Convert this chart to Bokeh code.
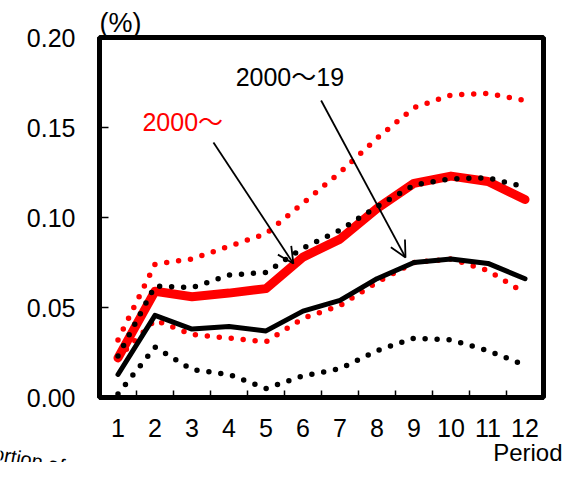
from bokeh.plotting import figure
from bokeh.layouts import column
from bokeh.models import (Range1d, FixedTicker, NumeralTickFormatter, Label, Arrow, OpenHead,
                          ColumnDataSource, Title)
from bokeh.embed import file_html
from bokeh.resources import INLINE

periods = list(range(1, 13))
red_mid = [0.022, 0.059, 0.056, 0.058, 0.0605, 0.078, 0.088, 0.105, 0.119, 0.123, 0.120, 0.110]
red_hi = [0.032, 0.074, 0.077, 0.084, 0.091, 0.108, 0.125, 0.144, 0.161, 0.168, 0.169, 0.165]
red_lo = [0.022, 0.043, 0.035, 0.033, 0.031, 0.044, 0.051, 0.064, 0.075, 0.077, 0.0705, 0.058]
black_mid = [0.0128, 0.0456, 0.038, 0.0395, 0.037, 0.048, 0.054, 0.066, 0.075, 0.077, 0.0745, 0.066]
black_hi = [0.023, 0.062, 0.061, 0.068, 0.0695, 0.083, 0.093, 0.106, 0.118, 0.1215, 0.122, 0.117]
black_lo = [0.002, 0.028, 0.0155, 0.0128, 0.005, 0.012, 0.016, 0.026, 0.033, 0.032, 0.026, 0.018]

y_ticks = [0.0, 0.05, 0.10, 0.15, 0.20]
x_ticks = periods
x_minor = [i + 0.5 for i in range(1, 12)]

label_red = "2000～"
label_black = "2000～19"
unit_text = "(%)"
x_title = "Period"
cut_text = "Proportion of"
# arrow annotations (start x, start y, end x, end y)
arrow_red = (3.58, 0.1417, 5.74, 0.0744)
arrow_black = (6.49, 0.165, 8.77, 0.0778)

FONT = "Liberation Sans"
FONT_MIX = "Liberation Sans, Noto Sans CJK JP"
W = 564
H_MAIN = 442
H_STRIP = 20

p = figure(width=W, height=H_MAIN, output_backend="svg", toolbar_location=None,
           x_range=Range1d(0.5, 12.5), y_range=Range1d(0, 0.2),
           min_border_left=99, min_border_right=W - 543, min_border_top=37,
           min_border_bottom=H_MAIN - 397)
p.xgrid.visible = False
p.ygrid.visible = False
p.outline_line_color = "black"
p.outline_line_width = 5
p.background_fill_color = "white"
p.border_fill_color = "white"

p.add_layout(Title(text=unit_text, align="left", text_font=FONT, text_font_size="27px",
                   text_font_style="normal", text_color="black", standoff=0), "above")

src = ColumnDataSource(dict(x=periods, rm=red_mid, rh=red_hi, rl=red_lo,
                            bm=black_mid, bh=black_hi, bl=black_lo))

dot = dict(line_dash="0 12", line_cap="round", line_width=5.5)
p.line("x", "rh", source=src, line_color="#FF0000", **dot)
p.line("x", "rl", source=src, line_color="#FF0000", **dot)
p.line("x", "rm", source=src, line_color="#FF0000", line_width=9, line_join="round", line_cap="round")
p.line("x", "bh", source=src, line_color="black", **dot)
p.line("x", "bl", source=src, line_color="black", **dot)
p.line("x", "bm", source=src, line_color="black", line_width=5, line_join="round", line_cap="round")

for (xs, ys, xe, ye) in (arrow_red, arrow_black):
    p.add_layout(Arrow(end=OpenHead(size=16, line_width=1.8, line_color="black"),
                       x_start=xs, y_start=ys, x_end=xe, y_end=ye,
                       line_width=1.8, line_color="black"))

p.add_layout(Label(x=1.66, y=0.1533, text=label_red, text_color="#FF0000",
                   text_font=FONT_MIX, text_font_size="25px", text_baseline="middle"))
p.add_layout(Label(x=4.18, y=0.178, text=label_black, text_color="black",
                   text_font=FONT_MIX, text_font_size="25px", text_baseline="middle"))

# axes
p.xaxis.ticker = FixedTicker(ticks=x_ticks, minor_ticks=x_minor)
p.xaxis.major_tick_line_color = None
p.xaxis.minor_tick_in = 7
p.xaxis.minor_tick_out = 0
p.xaxis.minor_tick_line_width = 1.5
p.xaxis.minor_tick_line_color = "black"
p.xaxis.axis_line_width = 5
p.xaxis.major_label_text_font = FONT
p.xaxis.major_label_text_font_size = "25px"
p.xaxis.major_label_standoff = 15

p.yaxis.ticker = FixedTicker(ticks=y_ticks)
p.yaxis.formatter = NumeralTickFormatter(format="0.00")
p.yaxis.major_tick_in = 9
p.yaxis.major_tick_out = 0
p.yaxis.major_tick_line_width = 1.5
p.yaxis.minor_tick_line_color = None
p.yaxis.axis_line_width = 5
p.yaxis.major_label_text_font = FONT
p.yaxis.major_label_text_font_size = "25px"
p.yaxis.major_label_standoff = 24

for ax in (p.xaxis, p.yaxis):
    ax.axis_line_color = "black"
    ax.major_label_text_color = "black"

# bottom strip holding the texts below the axis (pixel-like ranges)
s = figure(width=W, height=H_STRIP, output_backend="svg", toolbar_location=None,
           x_range=Range1d(0, W), y_range=Range1d(0, H_STRIP),
           x_axis_type=None, y_axis_type=None,
           min_border_left=0, min_border_right=0, min_border_top=0, min_border_bottom=0)
try:
    s.frame_align = False
except Exception:
    pass
s.xgrid.visible = False
s.ygrid.visible = False
s.outline_line_color = None
s.background_fill_color = "white"
s.border_fill_color = "white"
s.add_layout(Label(x=W - 2, y=-3, text=x_title, text_color="black", text_align="right",
                   text_font=FONT, text_font_size="24px", text_baseline="bottom"))
s.add_layout(Label(x=64, y=-4, text=cut_text, text_color="black", text_align="right",
                   angle=-0.19, text_font=FONT, text_font_size="20px", text_baseline="alphabetic"))

layout = column(p, s, spacing=0)
open("out.html", "w").write(file_html(layout, INLINE))
